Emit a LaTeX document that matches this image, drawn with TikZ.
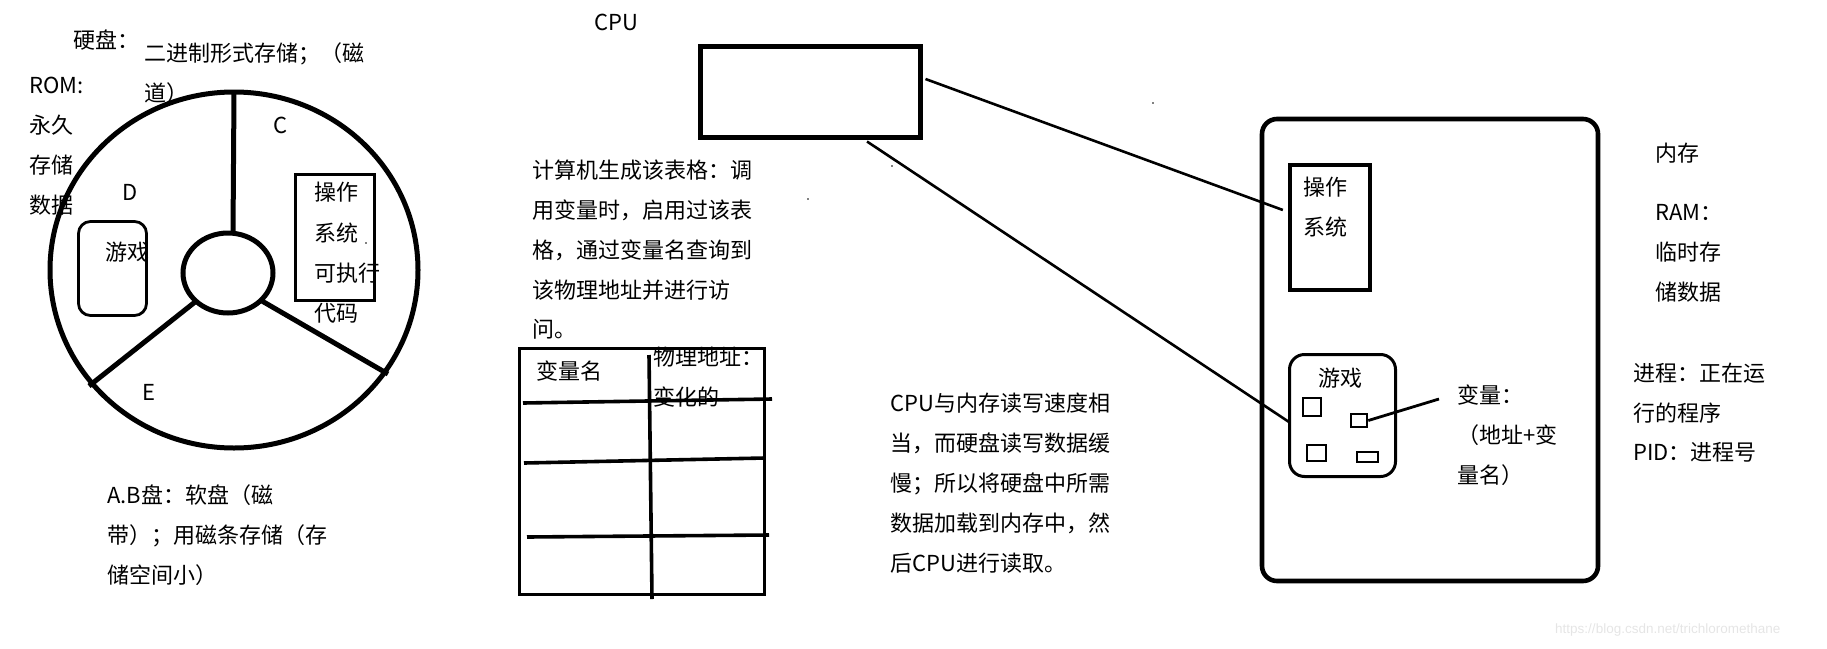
\documentclass[tikz,border=0pt]{standalone}
\usepackage{fontspec}
\setmainfont{Noto Sans CJK SC}
\newfontfamily\wmfont{Liberation Sans}
\begin{document}
\begin{tikzpicture}[x=1pt,y=-1pt,
  txt/.style={inner sep=0pt, anchor=west, text height=0.76em, text depth=0.04em, font=\fontsize{22}{26}\selectfont},
  thickline/.style={line width=5pt},
  thinline/.style={line width=2.6pt},
  boxshape/.style={draw, inner sep=0pt, line width=#1},
  dot/.style={fill=black}]
\useasboundingbox (0,0) rectangle (1827,648);
% ---------- disk ----------
\draw[thickline] (234,270) ellipse [x radius=184pt, y radius=178pt];
\draw[thickline] (228,273) ellipse [x radius=45pt, y radius=40pt];
\coordinate (hubtop) at (233,234);
\coordinate (hubl) at (195,302);
\coordinate (hubr) at (262,301);
\coordinate (rimtop) at (234,93);
\coordinate (riml) at (89,386);
\coordinate (rimr) at (388,374);
\draw[thickline] (hubtop) -- (rimtop);
\draw[thickline] (hubl) -- (riml);
\draw[thickline] (hubr) -- (rimr);
\node[boxshape=2.8pt, rounded corners=12pt, minimum width=68pt, minimum height=94pt] (dgame) at (112.5,268.5) {};
\node[boxshape=3.3pt, minimum width=79pt, minimum height=126pt] (dos) at (335,237.5) {};
\fill[dot] (366,243) circle (0.8pt);
% disk texts
\node[txt] (hd) at (73,45) {硬盘：};
\node[txt] (hd1) at (144,58) {二进制形式存储；（磁};
\node[txt] (hd2) at (144,98) {道）};
\node[txt] (rom) at (29,90) {ROM:};
\node[txt] (rom1) at (29,130) {永久};
\node[txt] (rom2) at (29,170) {存储};
\node[txt] (rom3) at (29,210) {数据};
\node[txt] (dD) at (122,197) {D};
\node[txt] (dC) at (273,130) {C};
\node[txt] (dE) at (142,397) {E};
\node[txt] (dgt) at (105,257) {游戏};
\node[txt] (dos1) at (314,197) {操作};
\node[txt] (dos2) at (314,238) {系统};
\node[txt] (dos3) at (314,278) {可执行};
\node[txt] (dos4) at (314,318) {代码};
\node[txt] (ab1) at (107,500) {A.B盘：软盘（磁};
\node[txt] (ab2) at (107,540) {带）；用磁条存储（存};
\node[txt] (ab3) at (107,580) {储空间小）};
% ---------- CPU and table ----------
\node[txt] (cpul) at (594,27) {CPU};
\node[boxshape=5pt, minimum width=220pt, minimum height=91pt] (cpu) at (810,91.5) {};
\node[txt] (tb1) at (532,175) {计算机生成该表格：调};
\node[txt] (tb2) at (532,215) {用变量时，启用过该表};
\node[txt] (tb3) at (532,255) {格，通过变量名查询到};
\node[txt] (tb4) at (532,295) {该物理地址并进行访};
\node[txt] (tb5) at (532,334) {问。};
\node[boxshape=3.6pt, minimum width=245pt, minimum height=246pt] (table) at (642,471.5) {};
\coordinate (vtop) at (649,355);
\coordinate (vbot) at (652,599);
\draw[line width=3.6pt] (vtop) -- (vbot);
\coordinate (h1l) at (523,403); \coordinate (h1r) at (772,399);
\coordinate (h2l) at (524,463); \coordinate (h2r) at (765,458);
\coordinate (h3l) at (527,537); \coordinate (h3r) at (769,535);
\draw[line width=3.6pt] (h1l) -- (h1r);
\draw[line width=3.6pt] (h2l) -- (h2r);
\draw[line width=3.6pt] (h3l) -- (h3r);
\node[txt] (vn) at (536,376) {变量名};
\node[txt] (pa1) at (653,362) {物理地址：};
\node[txt] (pa2) at (653,402) {变化的};
\node[txt] (sp1) at (890,408) {CPU与内存读写速度相};
\node[txt] (sp2) at (890,448) {当，而硬盘读写数据缓};
\node[txt] (sp3) at (890,488) {慢；所以将硬盘中所需};
\node[txt] (sp4) at (890,528) {数据加载到内存中，然};
\node[txt] (sp5) at (890,568) {后CPU进行读取。};
\fill[dot] (1153,103) circle (0.8pt);
\fill[dot] (892,166) circle (0.8pt);
\fill[dot] (808,199) circle (0.8pt);
% ---------- memory ----------
\node[boxshape=4.6pt, rounded corners=15pt, minimum width=336pt, minimum height=462pt] (mem) at (1430,350) {};
\node[boxshape=4.3pt, minimum width=80pt, minimum height=125pt] (memos) at (1330,227.5) {};
\node[boxshape=3pt, rounded corners=15pt, minimum width=106pt, minimum height=122pt] (memgame) at (1342.5,415.5) {};
\node[boxshape=2.6pt, minimum width=18pt, minimum height=18pt] (sq1) at (1312,407) {};
\node[boxshape=2.6pt, minimum width=16pt, minimum height=13pt] (sq2) at (1359,420.5) {};
\node[boxshape=2.6pt, minimum width=19pt, minimum height=16pt] (sq3) at (1316.5,453) {};
\node[boxshape=2.6pt, minimum width=21pt, minimum height=10pt] (sq4) at (1367.5,457) {};
\node[txt] (mos1) at (1303,192) {操作};
\node[txt] (mos2) at (1303,232) {系统};
\node[txt] (mgt) at (1318,383) {游戏};
\node[txt] (var1) at (1457,400) {变量：};
\node[txt] (var2) at (1457,440) {（地址+变};
\node[txt] (var3) at (1457,480) {量名）};
\node[txt] (ram0) at (1655,158) {内存};
\node[txt] (ram1) at (1655,217) {RAM：};
\node[txt] (ram2) at (1655,257) {临时存};
\node[txt] (ram3) at (1655,297) {储数据};
\node[txt] (pr1) at (1633,378) {进程：正在运};
\node[txt] (pr2) at (1633,418) {行的程序};
\node[txt] (pr3) at (1633,457) {PID：进程号};
% connectors
\draw[thinline] ([xshift=3pt,yshift=12.5pt]cpu.east) -- ([xshift=-5pt,yshift=17.5pt]memos.west);
\draw[thinline] ([xshift=57pt,yshift=-2pt]cpu.south) -- ([xshift=1pt,yshift=-6.5pt]memgame.west);
\draw[line width=2.8pt] (sq2.east) -- ([xshift=-18pt,yshift=1pt]var1.west);
% watermark
\node[inner sep=0pt, anchor=west, text=black!10, font=\wmfont\fontsize{13.5}{16}\selectfont] (wm) at (1555,630) {https://blog.csdn.net/trichloromethane};
\end{tikzpicture}
\end{document}
